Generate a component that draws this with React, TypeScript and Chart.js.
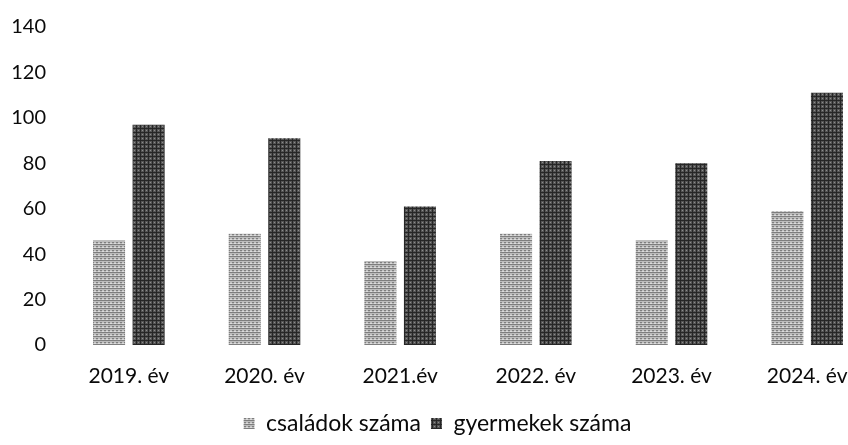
import React, { useEffect, useRef } from "react";
import { Chart, registerables } from "chart.js";

Chart.register(...registerables);

const categories = ["2019. év", "2020. év", "2021.év", "2022. év", "2023. év", "2024. év"];
const csaladok = [46, 49, 37, 49, 46, 59];
const gyermekek = [97, 91, 61, 81, 80, 111];
const seriesNames = ["családok száma", "gyermekek száma"];
const yTicks = [0, 20, 40, 60, 80, 100, 120, 140];

function makePattern(kind: "light" | "dark"): CanvasPattern | string {
  const c = document.createElement("canvas");
  c.width = 4;
  c.height = 4;
  const g = c.getContext("2d");
  if (!g) return kind === "light" ? "#aaaaaa" : "#555555";
  if (kind === "light") {
    g.fillStyle = "#bdbdbd";
    g.fillRect(0, 0, 4, 4);
    g.fillStyle = "#7e7e7e";
    g.fillRect(0, 0, 4, 1);
    g.fillRect(0, 2, 2, 1);
    g.fillStyle = "#dcdcdc";
    g.fillRect(2, 3, 2, 1);
  } else {
    g.fillStyle = "#555555";
    g.fillRect(0, 0, 4, 4);
    g.fillStyle = "#262626";
    g.fillRect(0, 0, 4, 1);
    g.fillRect(0, 0, 1, 4);
    g.fillStyle = "#8c8c8c";
    g.fillRect(2, 2, 1, 1);
  }
  const p = g.createPattern(c, "repeat");
  return p || (kind === "light" ? "#aaaaaa" : "#555555");
}

export default function App() {
  const ref = useRef<HTMLCanvasElement | null>(null);
  useEffect(() => {
    document.body.style.margin = "0";
    if (!ref.current) return;
    const family = "Lato, 'Noto Sans', sans-serif";
    const chart = new Chart(ref.current, {
      type: "bar",
      data: {
        labels: categories,
        datasets: [
          {
            label: seriesNames[0],
            data: csaladok,
            backgroundColor: makePattern("light") as any,
            borderWidth: 0,
          },
          {
            label: seriesNames[1],
            data: gyermekek,
            backgroundColor: makePattern("dark") as any,
            borderWidth: 0,
          },
        ],
      },
      options: {
        animation: false,
        responsive: false,
        maintainAspectRatio: false,
        datasets: { bar: { categoryPercentage: 0.583, barPercentage: 0.81 } },
        layout: { padding: { top: 17, right: 1, left: 0, bottom: 0 } },
        plugins: {
          tooltip: { enabled: false },
          legend: {
            position: "bottom",
            labels: {
              font: { family, size: 23 },
              color: "#0a0a0a",
              boxWidth: 11,
              boxHeight: 11,
              padding: 10,
            },
          },
        },
        scales: {
          x: {
            grid: { display: false, drawTicks: false },
            border: { display: false },
            ticks: { font: { family, size: 21 }, color: "#0a0a0a", padding: 19, maxRotation: 0 },
            afterFit: (s: any) => {
              s.height = 57;
            },
          },
          y: {
            min: 0,
            max: 140,
            afterBuildTicks: (s: any) => {
              s.ticks = yTicks.map((v) => ({ value: v }));
            },
            grid: { display: false, drawTicks: false },
            border: { display: false },
            ticks: { font: { family, size: 20 }, color: "#0a0a0a", padding: 15 },
            afterFit: (s: any) => {
              s.width = 61;
            },
          },
        },
      },
    });
    return () => chart.destroy();
  }, []);
  return (
    <div style={{ width: 848, height: 445, overflow: "hidden", position: "relative", background: "#fff" }}>
      <canvas ref={ref} width={876} height={445} style={{ display: "block" }} />
    </div>
  );
}
